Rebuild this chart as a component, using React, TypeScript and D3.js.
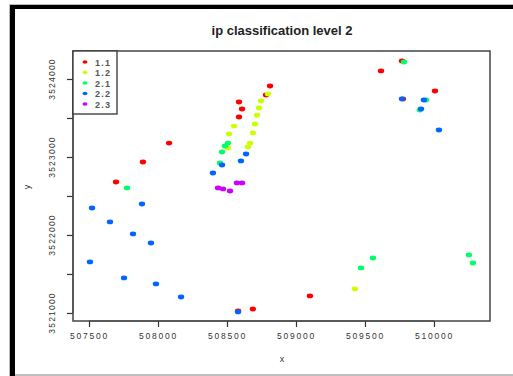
import React, { useRef, useEffect } from "react";
import * as d3 from "d3";

// class labels and colours (R rainbow(5))
const classes = ["1.1", "1.2", "2.1", "2.2", "2.3"];
const colors = ["#FF0000", "#CCFF00", "#00FF66", "#0066FF", "#CC00FF"];

// points per class, [x, y]
const class11: [number, number][] = [
	[509616, 3524103], [510007, 3523846], [509775, 3523744], [508812, 3523910],
	[508783, 3523795], [508587, 3523705], [508609, 3523615], [508587, 3523513],
	[508080, 3523179], [507891, 3522936], [507696, 3522679], [508580, 3521026],
	[508688, 3521051], [509101, 3521218], [509768, 3524231],
];
const class12: [number, number][] = [
	[508746, 3523718], [508732, 3523628], [508717, 3523538], [508703, 3523423],
	[508688, 3523308], [508667, 3523179], [508652, 3523128], [508551, 3523397],
	[508514, 3523295], [508507, 3523115], [509427, 3521308], [508797, 3523808],
];
const class21: [number, number][] = [
	[509783, 3524218], [509898, 3523602], [509942, 3523731], [508507, 3523179],
	[508485, 3523141], [508464, 3523064], [508449, 3522923], [507775, 3522603],
	[509558, 3521705], [509471, 3521577], [510253, 3521744], [510282, 3521641],
];
const class22: [number, number][] = [
	[509906, 3523615], [509927, 3523731], [509768, 3523744], [510036, 3523346],
	[508638, 3523038], [508601, 3522949], [508464, 3522897], [508398, 3522795],
	[507522, 3522346], [507652, 3522167], [507884, 3522397], [507819, 3522013],
	[507949, 3521897], [507507, 3521654], [507754, 3521449], [507985, 3521372],
	[508167, 3521205], [508580, 3521013],
];
const class23: [number, number][] = [
	[508435, 3522603], [508471, 3522590], [508522, 3522564], [508572, 3522667],
	[508609, 3522667],
];
const series = [class11, class12, class21, class22, class23];

const xTicks = [507500, 508000, 508500, 509000, 509500, 510000];
const yTicks = [3521000, 3521500, 3522000, 3522500, 3523000, 3523500, 3524000];
const yLabelled = [3521000, 3522000, 3523000, 3524000];

const W = 513, H = 376;
const box = { left: 73, right: 490, top: 51, bottom: 321 };
const font = "Liberation Sans, Arial, sans-serif";

export default function App() {
	const ref = useRef<SVGSVGElement>(null);

	useEffect(() => {
		const svg = d3.select(ref.current);
		svg.selectAll("*").remove();

		const x = d3.scaleLinear().domain([507384, 510406]).range([box.left, box.right]);
		const y = d3.scaleLinear().domain([3520897, 3524359]).range([box.bottom, box.top]);

		svg.append("rect").attr("width", W).attr("height", H).attr("fill", "white");

		// outer frame
		svg.append("line").attr("x1", 9).attr("x2", 513).attr("y1", 4.5).attr("y2", 4.5)
			.attr("stroke", "#bbb").attr("stroke-width", 1);
		svg.append("line").attr("x1", 9.5).attr("x2", 9.5).attr("y1", 4).attr("y2", 376)
			.attr("stroke", "#bbb").attr("stroke-width", 1);
		svg.append("line").attr("x1", 10).attr("x2", 513).attr("y1", 7).attr("y2", 7)
			.attr("stroke", "black").attr("stroke-width", 4);
		svg.append("line").attr("x1", 12.5).attr("x2", 12.5).attr("y1", 5).attr("y2", 376)
			.attr("stroke", "black").attr("stroke-width", 5);
		svg.append("line").attr("x1", 15).attr("x2", 513).attr("y1", 375).attr("y2", 375)
			.attr("stroke", "#aaa").attr("stroke-width", 1.5);

		svg.append("text")
			.attr("x", 282).attr("y", 35)
			.attr("text-anchor", "middle")
			.attr("font-family", font)
			.attr("font-weight", "bold")
			.attr("font-size", 13)
			.attr("fill", "#222")
			.text("ip classification level 2");

		// x axis
		const xAxis = svg.append("g")
			.attr("transform", `translate(0, ${box.bottom})`)
			.call(d3.axisBottom(x).tickValues(xTicks).tickSize(6).tickFormat(d3.format("d")));
		xAxis.select(".domain").remove();
		xAxis.selectAll("line").attr("stroke", "#333").attr("stroke-width", 1.2);
		xAxis.selectAll("text")
			.attr("font-family", font)
			.attr("font-size", 8.5).attr("fill", "#333").attr("dy", "1.1em")
			.attr("letter-spacing", "1.8");
		xAxis.append("line").attr("x1", x(507500)).attr("x2", x(510000))
			.attr("stroke", "#333").attr("stroke-width", 1);

		// y axis
		const yAxis = svg.append("g")
			.attr("transform", `translate(${box.left}, 0)`)
			.call(d3.axisLeft(y).tickValues(yTicks).tickSize(6).tickFormat(() => ""));
		yAxis.select(".domain").remove();
		yAxis.selectAll("line").attr("stroke", "#333").attr("stroke-width", 1.2);
		yAxis.append("line").attr("x1", 0).attr("x2", 0)
			.attr("y1", y(3521000)).attr("y2", y(3524000))
			.attr("stroke", "#333").attr("stroke-width", 1);

		svg.selectAll(".ylab")
			.data(yLabelled)
			.join("text")
			.attr("class", "ylab")
			.attr("transform", d => `translate(${55}, ${y(d)}) rotate(-90)`)
			.attr("text-anchor", "middle")
			.attr("font-family", font)
			.attr("font-size", 8.5)
			.attr("letter-spacing", "1.2")
			.attr("fill", "#333")
			.text(d => String(d));

		svg.append("text").attr("x", 282).attr("y", 362)
			.attr("text-anchor", "middle")
			.attr("font-family", font)
			.attr("font-size", 9).attr("fill", "#333").text("x");
		svg.append("text")
			.attr("transform", `translate(30, 187) rotate(-90)`)
			.attr("text-anchor", "middle")
			.attr("font-family", font)
			.attr("font-size", 9).attr("fill", "#333").text("y");

		// points
		series.forEach((pts, i) => {
			svg.append("g")
				.selectAll("ellipse")
				.data(pts)
				.join("ellipse")
				.attr("cx", d => x(d[0]))
				.attr("cy", d => y(d[1]))
				.attr("rx", 3.2)
				.attr("ry", 2.4)
				.attr("fill", colors[i]);
		});

		// plot box
		svg.append("rect")
			.attr("x", box.left).attr("y", box.top)
			.attr("width", box.right - box.left).attr("height", box.bottom - box.top)
			.attr("fill", "none").attr("stroke", "#444").attr("stroke-width", 1.5);

		// legend
		const lg = svg.append("g").attr("transform", `translate(${box.left}, ${box.top})`);
		lg.append("rect").attr("width", 44).attr("height", 63)
			.attr("fill", "white").attr("stroke", "#333").attr("stroke-width", 1.3);
		classes.forEach((c, i) => {
			const ly = 11 + i * 10.5;
			lg.append("ellipse").attr("cx", 12).attr("cy", ly).attr("rx", 2.5).attr("ry", 1.8)
				.attr("fill", colors[i]);
			lg.append("text").attr("x", 22).attr("y", ly + 3.5)
				.attr("font-family", font)
				.attr("font-size", 9).attr("font-weight", "bold").attr("fill", "#555")
				.attr("letter-spacing", "1.3")
				.text(c);
		});
	}, []);

	return (
		<svg ref={ref} width={W} height={H}
			style={{ position: "absolute", left: 0, top: 0, display: "block" }} />
	);
}
